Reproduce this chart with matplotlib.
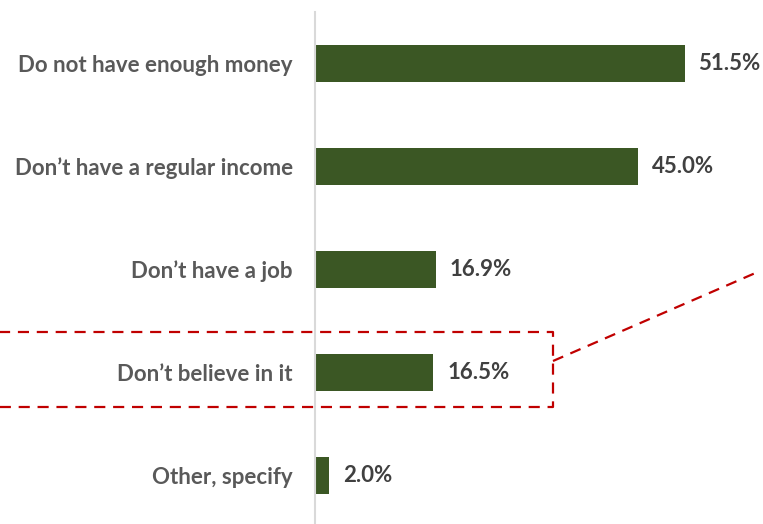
import matplotlib.pyplot as plt
from matplotlib.lines import Line2D

reasons = ['Do not have enough money', 'Don\u2019t have a regular income',
           'Don\u2019t have a job', 'Don\u2019t believe in it', 'Other, specify']
shares = [51.5, 45.0, 16.9, 16.5, 2.0]

W, H = 763, 524
fig = plt.figure(figsize=(W / 100, H / 100), dpi=100)
ax = fig.add_axes([315 / W, -3 / H, 1 - 315 / W, 515 / H])

ypos = list(range(len(reasons)))
ax.barh(ypos, shares, height=0.35, color='#3b5724')
ax.set_ylim(len(reasons) - 0.5, -0.5)
ax.set_xlim(0, 62.4)

for y, v in zip(ypos, shares):
    ax.text(v + 1.9, y, f'{v:.1f}%', va='center', ha='left',
            fontsize=16, fontweight='bold', color='#404040', family='Lato')

ax.set_yticks(ypos)
ax.set_yticklabels(reasons, fontsize=16, fontweight='bold', color='#595959', family='Lato')
ax.tick_params(axis='y', length=0, pad=16)
ax.set_xticks([])
for side in ['top', 'right', 'bottom']:
    ax.spines[side].set_visible(False)
ax.spines['left'].set_color('#d9d9d9')
ax.spines['left'].set_linewidth(1.5)

# dashed callout around "Don't believe in it"
def px(x, y):
    return x / W, 1 - y / H

red = dict(color='#c00000', lw=1.6, ls=(0, (5, 3.5)), transform=fig.transFigure)
box = [px(-5, 332), px(553, 332), px(553, 407), px(-5, 407)]
fig.add_artist(Line2D([p[0] for p in box], [p[1] for p in box], **red))
lead = [px(553, 361), px(760, 271)]
fig.add_artist(Line2D([p[0] for p in lead], [p[1] for p in lead], **red))

fig.savefig('out.png', dpi=100)
